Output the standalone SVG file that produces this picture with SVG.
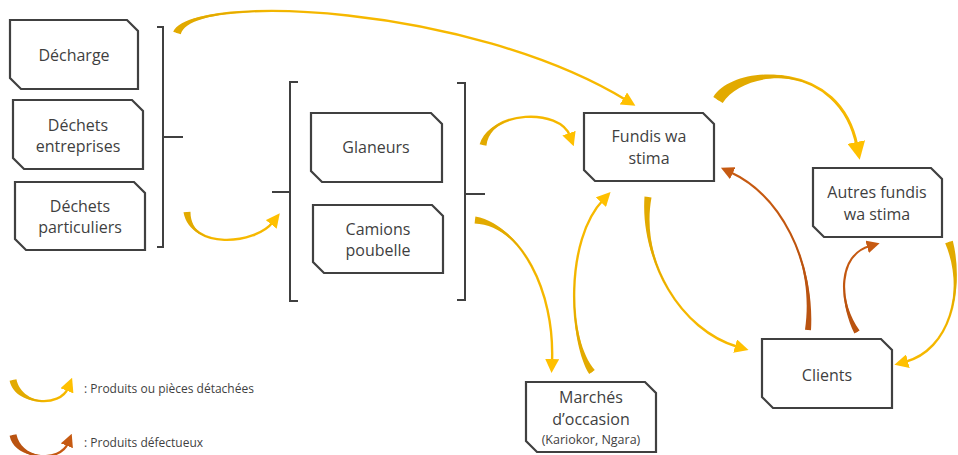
<svg xmlns="http://www.w3.org/2000/svg" width="958" height="455" viewBox="0 0 958 455">
<defs>
<style>
.box{fill:#fff;stroke:#404040;stroke-width:2.2;stroke-linejoin:miter}
.t{font-family:"Open Sans","Liberation Sans",sans-serif;font-size:16px;fill:#3f3f3f;text-anchor:middle}
.ts{font-family:"Open Sans","Liberation Sans",sans-serif;font-size:12.5px;fill:#3f3f3f;text-anchor:middle}
.lg{font-family:"Open Sans","Liberation Sans",sans-serif;font-size:12px;fill:#3f3f3f}
.br{fill:none;stroke:#404040;stroke-width:2}
.ly{fill:none;stroke:#F7B900;stroke-width:2.4;marker-end:url(#ay)}
.lyb{fill:none;stroke:#F7B900;stroke-width:3;marker-end:url(#ayb)}
.lb{fill:none;stroke:#C65A12;stroke-width:2.2;marker-end:url(#ab)}
.fy{fill:#E2AA00}
.fb{fill:#BA5310}
</style>
<marker id="ay" markerUnits="userSpaceOnUse" markerWidth="14" markerHeight="14" viewBox="0 0 14 14" refX="3" refY="7" orient="auto"><path d="M0,0 L14,7 L0,14 Z" fill="#FFC000"/></marker>
<marker id="ayb" markerUnits="userSpaceOnUse" markerWidth="18" markerHeight="18" viewBox="0 0 18 18" refX="4" refY="9" orient="auto"><path d="M0,0 L18,9 L0,18 Z" fill="#FFC000"/></marker>
<marker id="ab" markerUnits="userSpaceOnUse" markerWidth="13" markerHeight="13" viewBox="0 0 13 13" refX="3" refY="6.5" orient="auto"><path d="M0,0 L13,6.5 L0,13 Z" fill="#C65A12"/></marker>
</defs>
<rect width="958" height="455" fill="#fff"/>

<g id="brackets">
<path class="br" d="M157,27 H163 V247 H157 M163,137 H183"/>
<path class="br" d="M298,82 H290 V301 H298 M272,192 H290"/>
<path class="br" d="M457,83 H465 V300 H457 M465,194 H485"/>
</g>

<g id="connectors">
<path class="ly" d="M177,33 C190,-8 470,5 626,100"/>
<path class="fy" d="M180.8,34.2 C190,-8 470,5 626,100 C470,5 190,-8 173.2,31.8 Z"/>
<path class="ly" d="M187,212 C190,250 255,245 273,222"/>
<path class="fy" d="M190.5,211.7 C190,250 255,245 273,222 C255,245 190,250 183.5,212.3 Z"/>
<path class="ly" d="M483,145 C490,110 560,108 570,136"/>
<path class="fy" d="M486.4,145.7 C490,110 560,108 570,136 C560,108 490,110 479.6,144.3 Z"/>
<path class="ly" d="M475,220 C520,225 555,290 552,362"/>
<path class="fy" d="M474.6,223.5 C520,225 555,290 552,362 C555,290 520,225 475.4,216.5 Z"/>
<path class="ly" d="M592,372 C568,340 565,240 603,200"/>
<path class="fy" d="M594.8,369.9 C568,340 565,240 603,200 C565,240 568,340 589.2,374.1 Z"/>
<path class="ly" d="M648,197 C640,260 680,330 738,347"/>
<path class="fy" d="M651.5,197.4 C640,260 680,330 738,347 C680,330 640,260 644.5,196.6 Z"/>
<path class="lyb" d="M718,100 C740,65 840,60 857,146"/>
<path class="fy" d="M722.7,102.9 C744.7,67.9 840,60 857,148 C840,60 735.3,62.1 713.3,97.1 Z"/>
<path class="lb" d="M808,330 C815,260 780,195 730,172"/>
<path class="fb" d="M811,330.3 C815,260 780,195 730,172 C780,195 815,260 805,329.7 Z"/>
<path class="lb" d="M857,332 C838,300 838,255 870,246"/>
<path class="fb" d="M859.6,330.5 C838,300 838,255 870,246 C838,255 838,300 854.4,333.5 Z"/>
<path class="ly" d="M949,242 C965,290 950,350 905,362"/>
<path class="fy" d="M952.8,240.7 C965,290 950,350 905,362 C950,350 965,290 945.2,243.3 Z"/>
</g>

<g id="n-decharge"><path class="box" d="M10,20 H127 L138,31 V89 H21 L10,78 Z"/><text class="t" x="74" y="61">Décharge</text></g>
<g id="n-entreprises"><path class="box" d="M13,100 H132 L143,111 V169 H24 L13,158 Z"/><text class="t" x="78" y="131">Déchets</text><text class="t" x="78" y="152">entreprises</text></g>
<g id="n-particuliers"><path class="box" d="M15,182 H134 L145,193 V250 H26 L15,239 Z"/><text class="t" x="80" y="212">Déchets</text><text class="t" x="80" y="233">particuliers</text></g>
<g id="n-glaneurs"><path class="box" d="M311,113 H431 L442,124 V182 H322 L311,171 Z"/><text class="t" x="376" y="153">Glaneurs</text></g>
<g id="n-camions"><path class="box" d="M313,205 H432 L443,216 V273 H324 L313,262 Z"/><text class="t" x="378" y="235">Camions</text><text class="t" x="378" y="256">poubelle</text></g>
<g id="n-fundis"><path class="box" d="M584,113 H703 L714,124 V181 H595 L584,170 Z"/><text class="t" x="649" y="142">Fundis wa</text><text class="t" x="649" y="164">stima</text></g>
<g id="n-autres"><path class="box" d="M813,168 H931 L942,179 V237 H824 L813,226 Z"/><text class="t" x="877" y="198">Autres fundis</text><text class="t" x="877" y="220">wa stima</text></g>
<g id="n-clients"><path class="box" d="M762,339 H881 L892,350 V408 H773 L762,397 Z"/><text class="t" x="827" y="381">Clients</text></g>
<g id="n-marches"><path class="box" d="M526,382 H645 L656,393 V452 H537 L526,441 Z"/><text class="t" x="591" y="403">Marchés</text><text class="t" x="591" y="425">d’occasion</text><text class="ts" x="591" y="444">(Kariokor, Ngara)</text></g>

<g id="legend">
<path class="ly" d="M13,380 C18,405 60,408 68,388"/>
<path class="fy" d="M16.4,379.3 C21.4,404.3 60,408 68,388 C60,408 14.6,405.7 9.6,380.7 Z"/>
<text class="lg" x="84" y="393">:  Produits ou pièces détachées</text>
<path class="lb" d="M13,435 C18,460 60,463 68,443"/>
<path class="fb" d="M16.4,434.3 C21.4,459.3 60,463 68,443 C60,463 14.6,460.7 9.6,435.7 Z"/>
<text class="lg" x="84" y="447">:  Produits défectueux</text>
</g>
</svg>
